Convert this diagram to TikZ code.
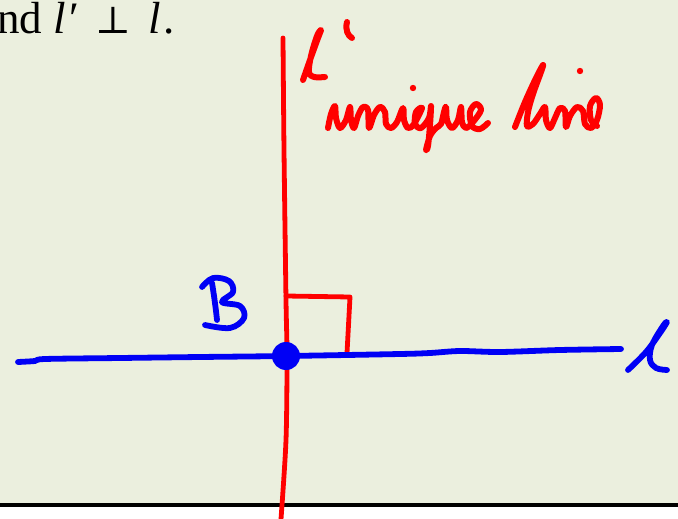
\documentclass[tikz,border=0pt]{standalone}
\usepackage{fontspec}
\setmainfont{Liberation Serif}
\newfontfamily\symfont{DejaVu Serif}
\definecolor{bgc}{RGB}{235,239,222}
\definecolor{inkred}{RGB}{255,0,0}
\definecolor{inkblue}{RGB}{0,0,245}
\tikzset{
  redink/.style={draw=inkred, line width=6pt, line cap=round, line join=round},
  blueink/.style={draw=inkblue, line width=5.8pt, line cap=round, line join=round},
}
\begin{document}
\begin{tikzpicture}[x=1pt,y=-1pt]
\useasboundingbox (0,0) rectangle (678,519);
\fill[bgc] (0,0) rectangle (678,505);
\fill[white] (0,505) rectangle (678,519);
\draw[black, line width=3.5pt] (0,505) -- (678,505);
% title text
\node[anchor=base west, inner sep=0pt, font=\fontsize{45}{52}\selectfont] (title) at (-3,34)
  {nd \textit{l}\kern4pt′\kern16pt{\symfont\fontsize{38}{40}\selectfont ⊥}\kern17pt\textit{l}\kern2pt.};
% red perpendicular line l'
\draw[redink, line width=4.8pt] plot[smooth, tension=0.5] coordinates
  {(283,38) (284,150) (286,300) (287,356) (286,440) (281,519)};
% right angle mark
\draw[redink, line width=4.8pt] (286,296) -- (350,297) -- (347,353);
% blue line l
\draw[blueink] plot[smooth, tension=0.5] coordinates
  {(18,362) (35,361) (45,359) (120,358) (200,357) (287,356) (400,354) (430,353) (460,351) (500,352) (560,350) (621,349)};
% blue dot B
\fill[inkblue] (286,356) circle (14);
% B label
\draw[blueink] (212,283) .. controls (214,295) and (216,310) .. (217,320);
\draw[blueink] plot[smooth, tension=0.6] coordinates
  {(202,287) (213,278) (229,281) (233,292) (222,302) (240,306) (244,318) (230,328) (205,325)};
% blue l label
\draw[blueink] plot[smooth, tension=0.6] coordinates
  {(628,370) (646,352) (660,333) (667,322) (663,326) (652,345) (650,360) (656,368) (667,370)};
% red l' label
\draw[redink] plot[smooth, tension=0.6] coordinates
  {(303,80) (310,60) (318,38) (321,30) (317,36) (311,56) (309,72) (314,77) (325,77)};
\draw[redink] (347,22) .. controls (345,30) and (348,36) .. (352,38);
% unique
\draw[redink] plot[smooth, tension=0.55] coordinates
  {(328,128) (331,114) (335,106) (336,118) (340,128) (346,120) (350,107) (351,120) (354,128)
   (358,116) (363,107) (368,110) (369,128) (374,115) (380,107) (385,112) (386,124) (391,128)
   (397,122) (403,108) (404,120) (408,128) (414,124)
   (422,108) (416,112) (415,124) (421,128) (429,118) (431,106) (430,125) (428,146) (426,150)
   (430,136) (436,128) (441,124) (444,112) (446,107) (447,120) (452,128) (458,120) (461,107)
   (462,122) (466,128) (473,122) (481,110) (476,104) (470,112) (472,126) (480,129) (488,123)};
\fill[inkred] (413,88) circle (3.2);
% line
\draw[redink] plot[smooth, tension=0.55] coordinates
  {(515,127) (525,102) (536,78) (543,65) (541,72) (533,94) (528,112) (527,126) (533,124)
   (540,114) (545,107) (546,120) (550,128) (555,118) (560,108) (565,111) (566,127) (570,116)
   (577,107) (583,111) (585,124) (591,128) (597,120) (600,105) (596,98) (590,106) (591,120) (597,126)};
\fill[inkred] (580,71) circle (3.2);
\end{tikzpicture}
\end{document}
